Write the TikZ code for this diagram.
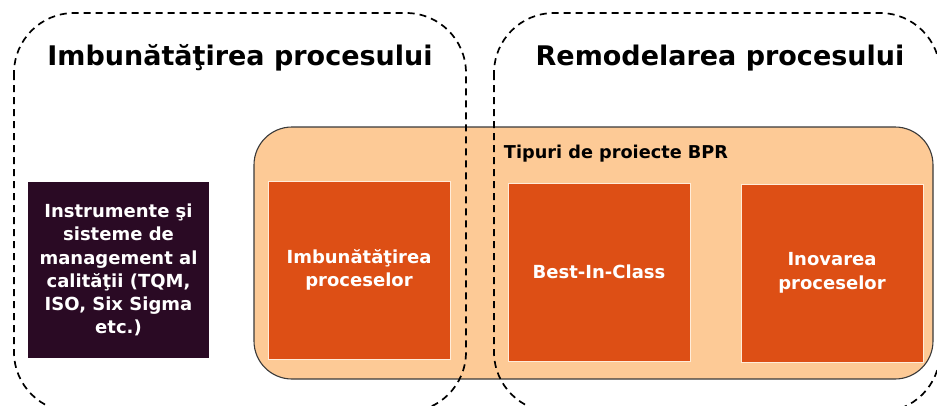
\documentclass[tikz,border=0pt]{standalone}
\usepackage{fontspec}
\setmainfont{DejaVu Sans}
\definecolor{peach}{HTML}{FDCA96}
\definecolor{orangebox}{HTML}{DD4F15}
\definecolor{darkbox}{HTML}{2A0A24}
\definecolor{peachline}{HTML}{3A3A3A}
\tikzset{
  dashbox/.style={draw=black, line width=1.7pt, dash pattern=on 7pt off 5pt, rounded corners=60pt},
  innerbox/.style={draw=white!85!orange, line width=0.8pt, fill=orangebox, text=white, align=center,
    font=\bfseries\fontsize{18}{23.5}\selectfont, inner sep=0pt, minimum width=182pt, minimum height=178pt},
  titletext/.style={font=\bfseries\fontsize{27}{32}\selectfont, text=black, inner sep=0pt},
}
\begin{document}
\begin{tikzpicture}[x=1pt,y=-1pt]
\useasboundingbox (0,0) rectangle (937,405);
\clip (0,0) rectangle (937,405);
\fill[white] (0,0) rectangle (937,405);
% peach container
\draw[fill=peach, draw=peachline, line width=1.1pt, rounded corners=38pt] (254,127) rectangle (933,379);
\node[inner sep=0pt, font=\bfseries\fontsize{17.7}{20}\selectfont] (tip) at (616,154) {Tipuri de proiecte BPR};
% inner boxes
\node[innerbox] (imb) at (359,270) {Imbunătăţirea\\proceselor};
\node[innerbox] (best) at (599,272) {Best-In-Class};
\node[innerbox] (inov) at (832,273) {Inovarea\\proceselor};
% dark box
\node[fill=darkbox, text=white, align=center, inner sep=0pt, minimum width=181pt, minimum height=176pt,
  font=\bfseries\fontsize{18}{23.3}\selectfont] (instr) at (118.5,270)
  {Instrumente şi\\sisteme de\\management al\\calităţii (TQM,\\ISO, Six Sigma\\etc.)};
% dashed regions
\draw[dashbox] (14,13) rectangle (466,412);
\draw[dashbox] (494,13) rectangle (940,412);
\node[titletext] (t1) at (240,58) {Imbunătăţirea procesului};
\node[titletext] (t2) at (720,58) {Remodelarea procesului};
\end{tikzpicture}
\end{document}
